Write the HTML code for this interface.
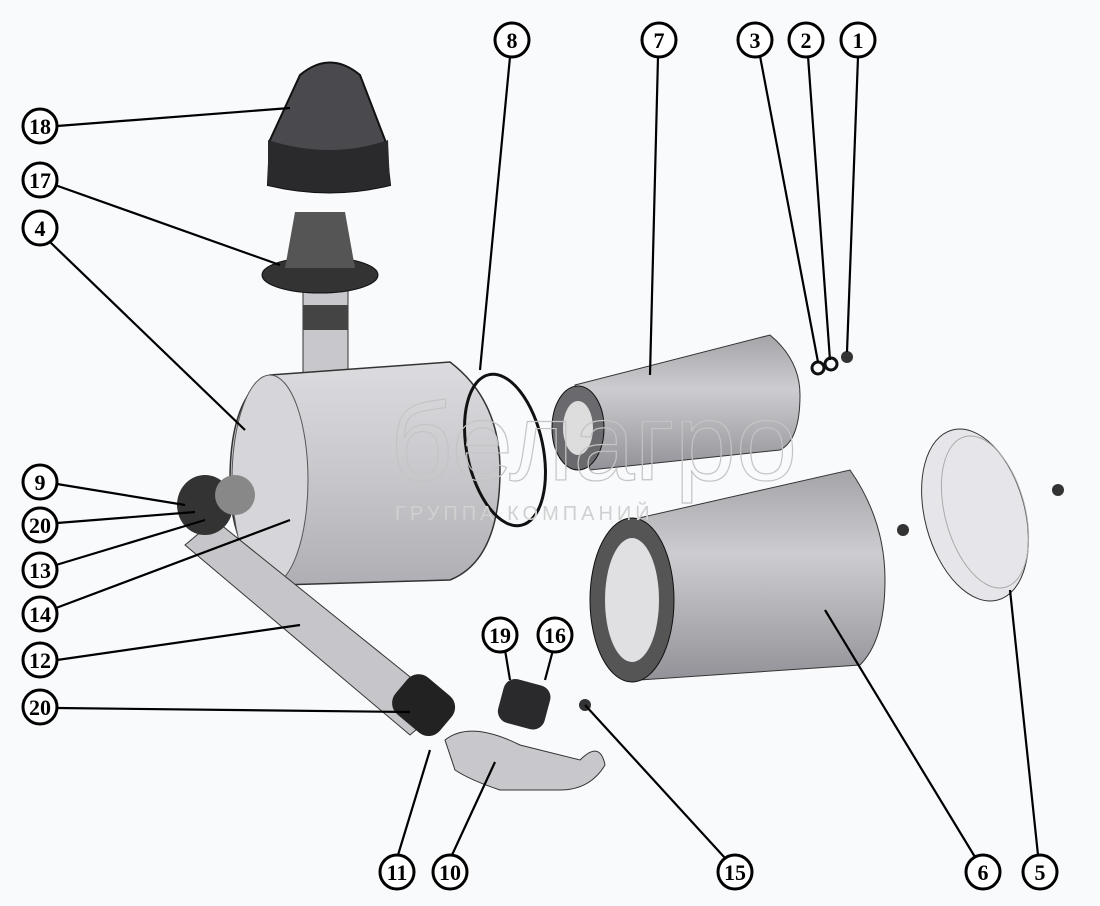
<!DOCTYPE html>
<html><head><meta charset="utf-8"><style>
html,body{margin:0;padding:0;background:#f9fafc;}
svg{display:block}
.c{fill:#fff;stroke:#000;stroke-width:3}
.t{font-family:"Liberation Serif",serif;font-weight:bold;font-size:22px;text-anchor:middle;fill:#000}
.l{stroke:#000;stroke-width:2.2;fill:none}
</style></head><body>
<svg width="1100" height="906" viewBox="0 0 1100 906">
<defs>
<linearGradient id="g1" x1="0" y1="0" x2="0" y2="1"><stop offset="0" stop-color="#dcdce0"/><stop offset="0.5" stop-color="#c8c8cc"/><stop offset="1" stop-color="#aeaeb4"/></linearGradient>
<linearGradient id="g2" x1="0" y1="0" x2="0" y2="1"><stop offset="0" stop-color="#a4a4a8"/><stop offset="0.4" stop-color="#cdcdd1"/><stop offset="1" stop-color="#929298"/></linearGradient>
</defs>
<!-- cap 18 -->
<path d="M300,75 Q330,50 360,75 L385,140 L390,185 Q330,200 268,185 L270,140 Z" fill="#4a4a4e" stroke="#111" stroke-width="2"/>
<path d="M268,140 Q330,160 388,140 L390,185 Q330,200 268,185 Z" fill="#2a2a2c"/>
<!-- 17 -->
<rect x="303" y="290" width="45" height="95" fill="#c8c8cc" stroke="#333"/>
<rect x="303" y="305" width="45" height="25" fill="#444"/>
<ellipse cx="320" cy="275" rx="58" ry="18" fill="#333" stroke="#111"/>
<path d="M295,212 L345,212 L355,268 L285,268 Z" fill="#555"/>
<!-- body -->
<path d="M270,375 L450,362 Q500,400 500,470 Q500,560 450,580 L280,585 Q230,560 230,480 Q230,395 270,375 Z" fill="url(#g1)" stroke="#333" stroke-width="1.5"/>
<ellipse cx="270" cy="480" rx="38" ry="105" fill="#d6d6da" stroke="#555"/>
<ellipse cx="505" cy="450" rx="38" ry="77" fill="none" stroke="#111" stroke-width="3" transform="rotate(-12 505 450)"/>
<!-- pipe 12 -->
<path d="M185,545 L215,520 L445,705 L410,735 Z" fill="#c6c6ca" stroke="#333"/>
<ellipse cx="205" cy="505" rx="28" ry="30" fill="#333"/>
<ellipse cx="235" cy="495" rx="20" ry="20" fill="#888"/>
<rect x="395" y="682" width="58" height="48" rx="15" fill="#222" transform="rotate(40 425 705)"/>
<!-- elbow 10 -->
<path d="M445,740 Q470,720 520,745 L580,760 Q600,740 605,765 Q590,790 560,790 L500,790 Q470,780 455,770 Z" fill="#c8c8cc" stroke="#333"/>
<rect x="500" y="682" width="48" height="45" rx="12" fill="#2a2a2c" transform="rotate(15 525 705)"/>
<circle cx="585" cy="705" r="6" fill="#333"/>
<!-- filter 7 -->
<path d="M575,385 L770,335 Q800,360 800,395 Q800,440 780,450 L590,470 Z" fill="url(#g2)" stroke="#333"/>
<ellipse cx="578" cy="428" rx="26" ry="42" fill="#6a6a6e" stroke="#111"/>
<ellipse cx="578" cy="428" rx="15" ry="27" fill="#ddd"/>
<!-- filter 6 -->
<path d="M630,520 L850,470 Q885,520 885,580 Q885,640 860,665 L640,680 Z" fill="url(#g2)" stroke="#333"/>
<ellipse cx="632" cy="600" rx="42" ry="82" fill="#555" stroke="#111"/>
<ellipse cx="632" cy="600" rx="27" ry="62" fill="#e0e0e2"/>
<!-- cover 5 -->
<ellipse cx="975" cy="515" rx="50" ry="88" fill="#e6e6ea" stroke="#333" transform="rotate(-15 975 515)"/>
<ellipse cx="985" cy="512" rx="40" ry="78" fill="none" stroke="#aaa" transform="rotate(-15 985 512)"/>
<circle cx="903" cy="530" r="6" fill="#333"/><circle cx="1058" cy="490" r="6" fill="#333"/>
<circle cx="818" cy="368" r="6" fill="none" stroke="#111" stroke-width="3"/>
<circle cx="831" cy="364" r="6" fill="none" stroke="#111" stroke-width="3"/>
<circle cx="847" cy="357" r="6" fill="#333"/>
<!-- watermark -->
<text x="390" y="480" font-family="Liberation Sans,sans-serif" font-size="110" fill="none" stroke="#c4c4c4" stroke-width="1.2">белагро</text>
<text x="395" y="520" font-family="Liberation Sans,sans-serif" font-size="20" letter-spacing="4" fill="#d0d0d0">ГРУППА КОМПАНИЙ</text>
<!-- leaders -->
<g class="l">
<line x1="57" y1="126" x2="290" y2="108"/>
<line x1="55" y1="185" x2="280" y2="265"/>
<line x1="50" y1="242" x2="245" y2="430"/>
<line x1="57" y1="484" x2="185" y2="505"/>
<line x1="57" y1="523" x2="195" y2="512"/>
<line x1="56" y1="565" x2="205" y2="520"/>
<line x1="56" y1="608" x2="290" y2="520"/>
<line x1="57" y1="660" x2="300" y2="625"/>
<line x1="57" y1="708" x2="410" y2="712"/>
<line x1="398" y1="855" x2="430" y2="750"/>
<line x1="452" y1="855" x2="495" y2="762"/>
<line x1="725" y1="858" x2="585" y2="705"/>
<line x1="975" y1="857" x2="825" y2="610"/>
<line x1="1038" y1="855" x2="1010" y2="590"/>
<line x1="510" y1="57" x2="480" y2="370"/>
<line x1="658" y1="57" x2="650" y2="375"/>
<line x1="760" y1="56" x2="818" y2="362"/>
<line x1="808" y1="56" x2="830" y2="360"/>
<line x1="858" y1="57" x2="847" y2="352"/>
<line x1="505" y1="650" x2="510" y2="680"/>
<line x1="553" y1="650" x2="545" y2="680"/>
</g>
<!-- labels -->
<g>
<circle class="c" cx="40" cy="126" r="17"/><text class="t" x="40" y="134">18</text>
<circle class="c" cx="40" cy="180" r="17"/><text class="t" x="40" y="188">17</text>
<circle class="c" cx="40" cy="228" r="17"/><text class="t" x="40" y="236">4</text>
<circle class="c" cx="40" cy="482" r="17"/><text class="t" x="40" y="490">9</text>
<circle class="c" cx="40" cy="525" r="17"/><text class="t" x="40" y="533">20</text>
<circle class="c" cx="40" cy="570" r="17"/><text class="t" x="40" y="578">13</text>
<circle class="c" cx="40" cy="614" r="17"/><text class="t" x="40" y="622">14</text>
<circle class="c" cx="40" cy="660" r="17"/><text class="t" x="40" y="668">12</text>
<circle class="c" cx="40" cy="707" r="17"/><text class="t" x="40" y="715">20</text>
<circle class="c" cx="397" cy="872" r="17"/><text class="t" x="397" y="880">11</text>
<circle class="c" cx="450" cy="872" r="17"/><text class="t" x="450" y="880">10</text>
<circle class="c" cx="735" cy="872" r="17"/><text class="t" x="735" y="880">15</text>
<circle class="c" cx="983" cy="872" r="17"/><text class="t" x="983" y="880">6</text>
<circle class="c" cx="1040" cy="872" r="17"/><text class="t" x="1040" y="880">5</text>
<circle class="c" cx="512" cy="40" r="17"/><text class="t" x="512" y="48">8</text>
<circle class="c" cx="659" cy="40" r="17"/><text class="t" x="659" y="48">7</text>
<circle class="c" cx="755" cy="40" r="17"/><text class="t" x="755" y="48">3</text>
<circle class="c" cx="806" cy="40" r="17"/><text class="t" x="806" y="48">2</text>
<circle class="c" cx="858" cy="40" r="17"/><text class="t" x="858" y="48">1</text>
<circle class="c" cx="500" cy="635" r="17"/><text class="t" x="500" y="643">19</text>
<circle class="c" cx="555" cy="635" r="17"/><text class="t" x="555" y="643">16</text>
</g>
</svg>
</body></html>
